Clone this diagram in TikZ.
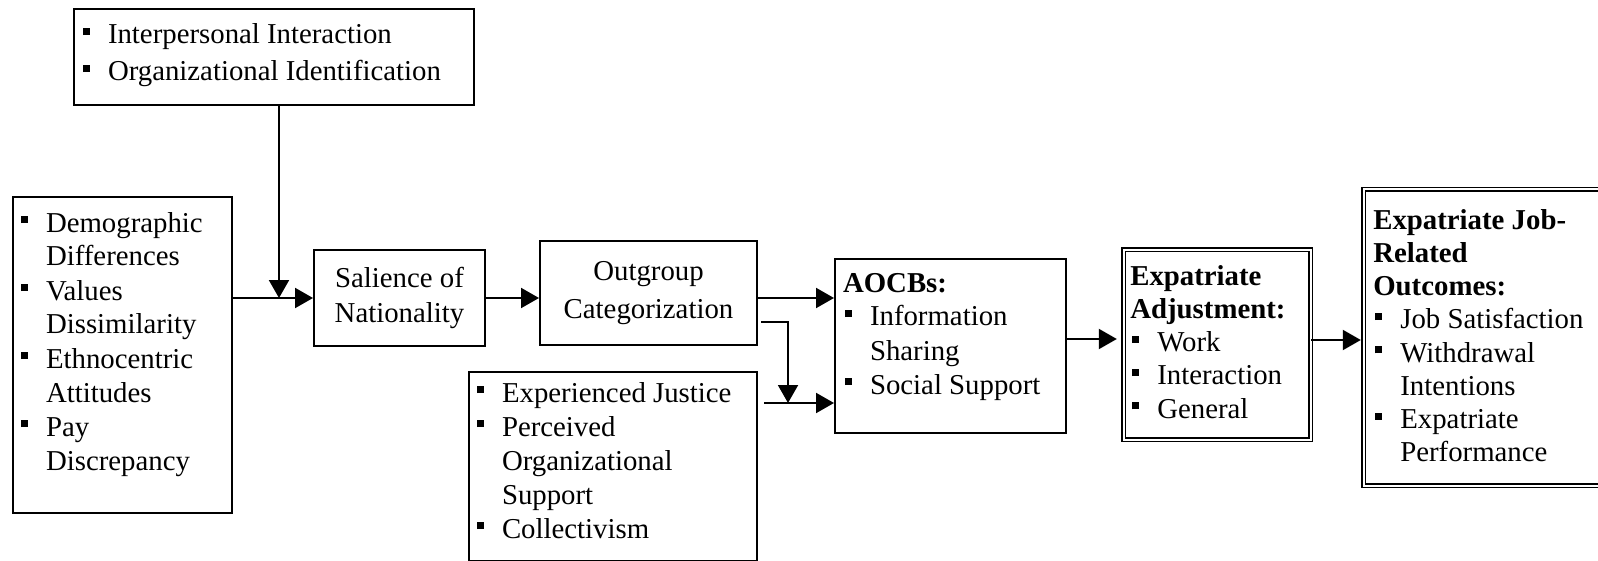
\documentclass[tikz,border=0pt]{standalone}
\usepackage{fontspec}
\setmainfont{Liberation Serif}
\usepackage{tikz}
\usetikzlibrary{calc}
\usetikzlibrary{arrows.meta}
\newcommand{\sq}{\hspace*{1pt}\rule[4.4pt]{3.5pt}{3.5pt}}
\newcommand{\itm}[1]{\makebox[13.5pt][l]{\sq}#1}
\newcommand{\cnt}[1]{\hspace*{13.5pt}#1}
\newcommand{\lines}[1]{\begin{tabular}[t]{@{}l@{}}#1\end{tabular}}

\begin{document}
\begin{tikzpicture}[x=0.5pt, y=-0.5pt, line width=1pt,
    box/.style={draw, line width=1pt, inner sep=0pt},
    dbox/.style={draw, double, line width=0.7pt, double distance=1pt, inner sep=0pt},
    txt/.style={anchor=base west, inner sep=0pt, font=\fontsize{14.4}{17}\selectfont},
    arr/.style={-{Triangle[length=9pt,width=10pt]}}]
    \useasboundingbox (0,0) rectangle (1598,561);
    % boxes
    \node[box, minimum width=200pt, minimum height=48pt] (inter) at (274,57) {};
    \node[box, minimum width=109.5pt, minimum height=158pt] (demo) at (122.5,355) {};
    \node[box, minimum width=85.5pt, minimum height=48pt, align=center,
        font=\fontsize{14.4}{17.5}\selectfont] (sal) at (399.5,298) {Salience of\\Nationality};
    \node[box, minimum width=108.5pt, minimum height=52pt, align=center,
        font=\fontsize{14.4}{19}\selectfont] (outg) at (648.5,293) {Outgroup\\Categorization};
    \node[box, minimum width=144pt, minimum height=94.5pt] (just) at (613,466.5) {};
    \node[box, minimum width=115.5pt, minimum height=87pt] (aocb) at (950.5,346) {};
    \node[dbox, minimum width=93.5pt, minimum height=95pt] (adj) at (1217,344.5) {};
    \node[dbox, minimum width=128.25pt, minimum height=148pt] (outc) at (1491.75,337.5) {};
    % texts
    \node[txt, font=\fontsize{14.4}{18.5}\selectfont] (intertxt) at ([shift={(7,36)}]inter.north west)
        {\lines{\itm{Interpersonal Interaction}\\ \itm{Organizational Identification}}};
    \node[txt] (demotxt) at ([shift={(6,36)}]demo.north west)
        {\lines{\itm{Demographic}\\ \cnt{Differences}\\ \itm{Values}\\ \cnt{Dissimilarity}\\
        \itm{Ethnocentric}\\ \cnt{Attitudes}\\ \itm{Pay}\\ \cnt{Discrepancy}}};
    \node[txt] (justtxt) at ([shift={(6,31)}]just.north west)
        {\lines{\itm{Experienced Justice}\\ \itm{Perceived}\\ \cnt{Organizational}\\
        \cnt{Support}\\ \itm{Collectivism}}};
    \node[txt] (aocbtxt) at ([shift={(8,34)}]aocb.north west)
        {\lines{\textbf{AOCBs:}\\ \itm{Information}\\ \cnt{Sharing}\\ \itm{Social Support}}};
    \node[txt, font=\fontsize{14.4}{16.6}\selectfont] (adjtxt) at ([shift={(6.5,36.5)}]adj.north west)
        {\lines{\textbf{Expatriate}\\ \textbf{Adjustment:}\\ \itm{Work}\\ \itm{Interaction}\\ \itm{General}}};
    \node[txt, font=\fontsize{14.4}{16.6}\selectfont] (outctxt) at ([shift={(9.5,40.5)}]outc.north west)
        {\lines{\textbf{Expatriate Job-}\\ \textbf{Related}\\ \textbf{Outcomes:}\\ \itm{Job Satisfaction}\\
        \itm{Withdrawal}\\ \cnt{Intentions}\\ \itm{Expatriate}\\ \cnt{Performance}}};
    % arrows
    \coordinate (j1) at (279,298);
    \coordinate (k1) at (761,322);
    \coordinate (j2) at (788,403);
    \draw[arr] (j1 |- inter.south) -- (j1);
    \draw[arr] (demo.east |- sal.west) -- (sal.west);
    \draw[arr] (sal.east) -- (sal.east -| outg.west);
    \draw[arr] (sal.east -| outg.east) -- (sal.east -| aocb.west);
    \draw[arr] (k1) -| (j2);
    \draw[arr] ([xshift=3pt]just.east |- j2) -- (j2 -| aocb.west);
    \draw[arr, shorten >=3pt] ([yshift=3.5pt]aocb.east) -- ([yshift=3.5pt]aocb.east -| adj.west);
    \draw[arr, shorten >=1pt] ([yshift=2.25pt]adj.east) -- ([yshift=2.25pt]adj.east -| outc.west);
\end{tikzpicture}
\end{document}
